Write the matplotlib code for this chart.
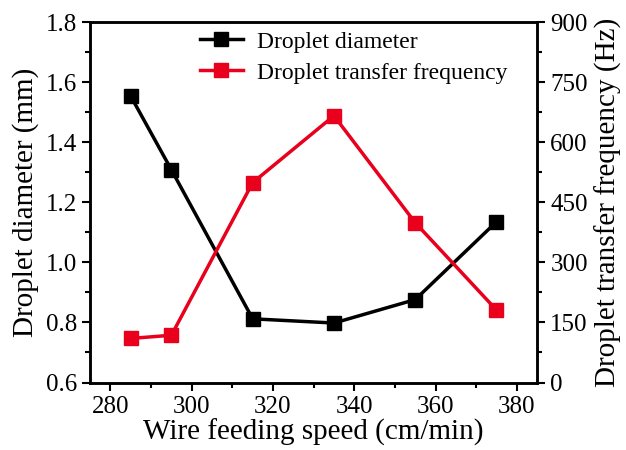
import matplotlib.pyplot as plt
from matplotlib.ticker import MultipleLocator

plt.rcParams['font.family'] = ['Liberation Serif', 'DejaVu Serif']
plt.rcParams['mathtext.fontset'] = 'stix'

# Wire feeding speed (cm/min)
speed = [285, 295, 315, 335, 355, 375]
# Droplet diameter (mm)
diameter = [1.553, 1.308, 0.812, 0.798, 0.876, 1.135]
# Droplet transfer frequency (Hz)
frequency = [110, 118, 499, 666, 399, 181]

red = '#e8001c'

fig = plt.figure(figsize=(6.26, 4.5), dpi=100)
ax = fig.add_axes([0.144, 0.150, 0.714, 0.801])
ax2 = ax.twinx()

l1, = ax.plot(speed, diameter, color='black', lw=2.5, marker='s', ms=9.5,
              label='Droplet diameter')
l2, = ax2.plot(speed, frequency, color=red, lw=2.5, marker='s', ms=9.5,
               label='Droplet transfer frequency')

ax.set_xlim(275, 385)
ax.set_ylim(0.6, 1.8)
ax2.set_ylim(0, 900)

ax.xaxis.set_major_locator(MultipleLocator(20))
ax.xaxis.set_minor_locator(MultipleLocator(10))
ax.yaxis.set_major_locator(MultipleLocator(0.2))
ax.yaxis.set_minor_locator(MultipleLocator(0.1))
ax2.yaxis.set_major_locator(MultipleLocator(150))
ax2.yaxis.set_minor_locator(MultipleLocator(75))
ax.yaxis.set_major_formatter(plt.FormatStrFormatter('%.1f'))

for a in (ax, ax2):
    a.tick_params(which='major', direction='out', length=6, width=1.5, labelsize=18)
    a.tick_params(which='minor', direction='out', length=3.5, width=1.5)
    for s in a.spines.values():
        s.set_linewidth(1.8)

ax.set_xlabel('Wire feeding speed (cm/min)', fontsize=21, labelpad=1)
ax.set_ylabel('Droplet diameter (mm)', fontsize=21, labelpad=5)
ax2.set_ylabel('Droplet transfer frequency (Hz)', fontsize=21, labelpad=5)

ax.legend(handles=[l1, l2], loc='upper left', bbox_to_anchor=(0.246, 0.975),
          frameon=False, fontsize=17, handlelength=1.8, handletextpad=0.6,
          labelspacing=0.4, borderpad=0, borderaxespad=0)

fig.savefig('out.png', dpi=100)
